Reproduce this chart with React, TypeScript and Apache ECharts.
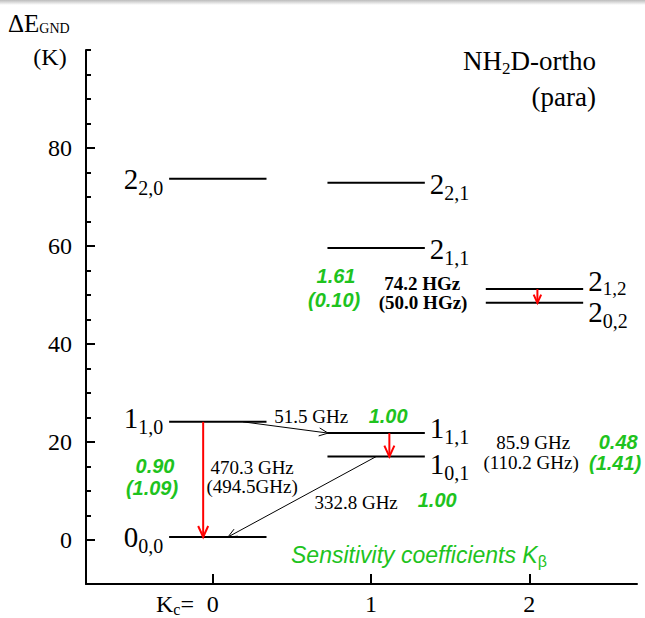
import React, { useEffect, useRef } from 'react';
import * as echarts from 'echarts';

// ---------------- data ----------------
const kTickValues = [0, 1, 2];
const energyTickLabels = [0, 20, 40, 60, 80];
const energyMinorTicks = [0, 5, 10, 15, 20, 25, 30, 35, 40, 45, 50, 55, 60, 65, 70, 75, 80, 85, 90, 95, 100];

// rotational levels: J_{Ka,Kc}
const levelMain = ['0', '1', '1', '1', '2', '2', '2', '2', '2'];
const levelSub = ['0,0', '1,0', '1,1', '0,1', '2,0', '2,1', '1,1', '1,2', '0,2'];
const levelK = [0, 0, 1, 1, 0, 1, 1, 2, 2];
const levelEnergy = [0.6, 24.1, 21.8, 17.0, 73.7, 72.9, 59.6, 51.2, 48.4];

// red (vertical) transitions: level index from -> to, at K position
const redFrom = [1, 2, 7];
const redTo = [0, 3, 8];
const redK = [-0.06, 1.116, 2.051];

// black (oblique) transitions
const blackFrom = [1, 3];
const blackTo = [2, 0];
const blackFromK = [0.192, 1.032];
const blackToK = [0.729, 0.097];

// frequency annotations
const freqText = ['51.5 GHz', '470.3 GHz', '(494.5GHz)', '332.8 GHz', '74.2 HGz', '(50.0 HGz)', '85.9 GHz', '(110.2 GHz)'];
const freqK = [0.622, 0.249, 0.249, 0.906, 1.323, 1.329, 2.024, 2.011];
const freqE = [25.1, 14.7, 10.8, 7.7, 52.4, 48.4, 19.8, 15.7];

// sensitivity coefficients
const coefText = ['1.00', '0.90', '(1.09)', '1.00', '1.61', '(0.10)', '0.48', '(1.41)'];
const coefK = [1.108, -0.364, -0.383, 1.418, 0.779, 0.767, 2.561, 2.542];
const coefE = [25.3, 15.1, 10.6, 8.1, 53.9, 49.0, 20.0, 15.7];

// ---------------- styles ----------------
const SERIF = '"Liberation Serif", "Times New Roman", serif';
const SANS = '"Liberation Sans", Arial, sans-serif';
const GREEN = '#1ec31e';
const RED = '#ff0000';
const LEVEL_SPAN = [-0.275, 0.34];
const LABEL_NUDGE = [0, -4, -5, 7, 0, 1, 1, -8, 9];
const SUB_DY = [9, 9, 9, 9, 9, 9, 9, 7, 9];
const SUB_SIZE = [20, 20, 20, 20, 20, 20, 20, 19, 20];
const BOLD_FREQ = [false, false, false, false, true, true, false, false];

let measureCtx: CanvasRenderingContext2D | null = null;
function textWidth(text: string, size: number, family: string, weight = 'normal', style = 'normal') {
  if (!measureCtx) measureCtx = document.createElement('canvas').getContext('2d');
  if (!measureCtx) return text.length * size * 0.5;
  measureCtx.font = `${style} ${weight} ${size}px ${family}`;
  return measureCtx.measureText(text).width;
}

type Piece = { text: string; size: number; dy?: number; family?: string; weight?: string; style?: string; fill?: string };

function compose(pieces: Piece[], x: number, y: number, align: 'left' | 'right' | 'center', fill: string) {
  const widths = pieces.map(p => textWidth(p.text, p.size, p.family || SERIF, p.weight || 'normal', p.style || 'normal'));
  const total = widths.reduce((a, b) => a + b, 0);
  let cx = align === 'left' ? x : align === 'right' ? x - total : x - total / 2;
  return pieces.map((p, i) => {
    const el = {
      type: 'text',
      x: cx,
      y: y + (p.dy || 0),
      silent: true,
      style: {
        text: p.text,
        fontSize: p.size,
        fontFamily: p.family || SERIF,
        fontWeight: p.weight || 'normal',
        fontStyle: p.style || 'normal',
        fill: p.fill || fill,
        align: 'left',
        verticalAlign: 'middle',
        textAlign: 'left',
        textVerticalAlign: 'middle',
      },
    };
    cx += widths[i];
    return el;
  });
}

function arrow(p0: number[], p1: number[], color: string, width: number, headLen: number, headHalf: number) {
  const dx = p1[0] - p0[0];
  const dy = p1[1] - p0[1];
  const len = Math.hypot(dx, dy) || 1;
  const ux = dx / len, uy = dy / len;
  const nx = -uy, ny = ux;
  const L = Math.min(headLen, len * 0.6);
  const H = (headHalf * L) / headLen;
  const bx = p1[0] - ux * L, by = p1[1] - uy * L;
  return [
    { type: 'line', shape: { x1: p0[0], y1: p0[1], x2: p1[0], y2: p1[1] }, style: { stroke: color, lineWidth: width } },
    {
      type: 'polyline',
      shape: { points: [[bx + nx * H, by + ny * H], [p1[0], p1[1]], [bx - nx * H, by - ny * H]] },
      style: { stroke: color, lineWidth: width, fill: 'none' },
    },
  ];
}

function buildOption() {
  const yBase = {
    type: 'value',
    min: -9,
    max: 100,
    position: 'left',
    splitLine: { show: false },
  };
  return {
    animation: false,
    backgroundColor: '#ffffff',
    grid: { left: 86, right: 8, top: 50, bottom: 34, containLabel: false, outerBoundsMode: 'none' },
    xAxis: {
      type: 'value',
      min: -0.8,
      max: 2.68,
      axisLine: { show: true, onZero: false, lineStyle: { color: '#000', width: 2 } },
      axisTick: { show: true, inside: true, length: 10, customValues: kTickValues, lineStyle: { color: '#000', width: 2 } },
      axisLabel: { show: true, customValues: kTickValues, fontSize: 24, fontFamily: SERIF, color: '#000', margin: 8 },
      splitLine: { show: false },
    },
    yAxis: [
      {
        ...yBase,
        axisLine: { show: true, onZero: false, lineStyle: { color: '#000', width: 2 } },
        axisTick: { show: true, inside: true, length: 9, customValues: energyTickLabels, lineStyle: { color: '#000', width: 2 } },
        axisLabel: { show: true, customValues: energyTickLabels, fontSize: 24, fontFamily: SERIF, color: '#000', margin: 14 },
      },
      {
        ...yBase,
        axisLine: { show: false, onZero: false },
        axisTick: { show: true, inside: true, length: 5, customValues: energyMinorTicks, lineStyle: { color: '#000', width: 2 } },
        axisLabel: { show: false },
      },
    ],
    graphic: [
      {
        type: 'rect',
        silent: true,
        shape: { x: 0, y: 0, width: 645, height: 5 },
        style: {
          fill: new echarts.graphic.LinearGradient(0, 0, 0, 1, [
            { offset: 0, color: '#bcbcbc' },
            { offset: 1, color: '#ffffff' },
          ]),
        },
      },
      ...compose([{ text: 'ΔE', size: 25 }, { text: 'GND', size: 14, dy: 5 }], 8, 23, 'left', '#000'),
      ...compose([{ text: '(K)', size: 24 }], 50, 57, 'center', '#000'),
      ...compose([{ text: 'NH', size: 27 }, { text: '2', size: 17, dy: 7 }, { text: 'D-ortho', size: 27 }], 596, 61, 'right', '#000'),
      ...compose([{ text: '(para)', size: 27 }], 596, 97, 'right', '#000'),
      ...compose([{ text: 'K', size: 24 }, { text: 'c', size: 16, dy: 5 }, { text: '=', size: 24 }], 156, 604, 'left', '#000'),
      ...compose(
        [
          { text: 'Sensitivity coefficients K', size: 23, family: SANS, style: 'italic' },
          { text: 'β', size: 16, dy: 6, family: SANS },
        ],
        291,
        555,
        'left',
        GREEN
      ),
    ],
    series: [
      {
        type: 'custom',
        coordinateSystem: 'cartesian2d',
        silent: true,
        clip: false,
        data: levelK.map((k, i) => [k, levelEnergy[i]]),
        encode: { x: 0, y: 1 },
        renderItem: (params: any, api: any) => {
          const i = params.dataIndex;
          const k = levelK[i];
          const e = levelEnergy[i];
          const a = api.coord([k + LEVEL_SPAN[0], e]);
          const b = api.coord([k + LEVEL_SPAN[1], e]);
          const children: any[] = [
            { type: 'line', shape: { x1: a[0], y1: a[1], x2: b[0], y2: b[1] }, style: { stroke: '#000', lineWidth: 2 } },
          ];
          const leftSide = k === 0;
          const lx = leftSide ? a[0] - 6 : b[0] + 5;
          const ly = a[1] + LABEL_NUDGE[i];
          children.push(
            ...compose(
              [{ text: levelMain[i], size: 29 }, { text: levelSub[i], size: SUB_SIZE[i], dy: SUB_DY[i] }],
              lx,
              ly,
              leftSide ? 'right' : 'left',
              '#000'
            )
          );
          return { type: 'group', children };
        },
      },
      {
        type: 'custom',
        coordinateSystem: 'cartesian2d',
        silent: true,
        clip: false,
        data: redK.map((k, i) => [k, levelEnergy[redFrom[i]]]),
        encode: { x: 0, y: 1 },
        renderItem: (params: any, api: any) => {
          const i = params.dataIndex;
          const p0 = api.coord([redK[i], levelEnergy[redFrom[i]]]);
          const p1 = api.coord([redK[i], levelEnergy[redTo[i]]]);
          return { type: 'group', children: arrow(p0, p1, RED, 2, 11, 5) };
        },
      },
      {
        type: 'custom',
        coordinateSystem: 'cartesian2d',
        silent: true,
        clip: false,
        data: blackFromK.map((k, i) => [k, levelEnergy[blackFrom[i]]]),
        encode: { x: 0, y: 1 },
        renderItem: (params: any, api: any) => {
          const i = params.dataIndex;
          const p0 = api.coord([blackFromK[i], levelEnergy[blackFrom[i]]]);
          const p1 = api.coord([blackToK[i], levelEnergy[blackTo[i]]]);
          return { type: 'group', children: arrow(p0, p1, '#000', 1, 9, 4) };
        },
      },
      {
        type: 'custom',
        coordinateSystem: 'cartesian2d',
        silent: true,
        clip: false,
        data: freqK.map((k, i) => [k, freqE[i]]),
        encode: { x: 0, y: 1 },
        renderItem: (params: any, api: any) => {
          const i = params.dataIndex;
          const p = api.coord([freqK[i], freqE[i]]);
          return {
            type: 'group',
            children: compose([{ text: freqText[i], size: 19, weight: BOLD_FREQ[i] ? 'bold' : 'normal' }], p[0], p[1], 'center', '#000'),
          };
        },
      },
      {
        type: 'custom',
        coordinateSystem: 'cartesian2d',
        silent: true,
        clip: false,
        data: coefK.map((k, i) => [k, coefE[i]]),
        encode: { x: 0, y: 1 },
        renderItem: (params: any, api: any) => {
          const i = params.dataIndex;
          const p = api.coord([coefK[i], coefE[i]]);
          return {
            type: 'group',
            children: compose(
              [{ text: coefText[i], size: 20, family: SANS, weight: 'bold', style: 'italic' }],
              p[0],
              p[1],
              'center',
              GREEN
            ),
          };
        },
      },
    ],
  };
}

export default function App() {
  const ref = useRef<HTMLDivElement>(null);
  useEffect(() => {
    document.body.style.margin = '0';
    if (!ref.current) return;
    const chart = echarts.init(ref.current, null, { renderer: 'svg' });
    chart.setOption(buildOption() as any);
    return () => chart.dispose();
  }, []);
  return <div ref={ref} style={{ position: 'absolute', left: 0, top: 0, width: 645, height: 618 }} />;
}
